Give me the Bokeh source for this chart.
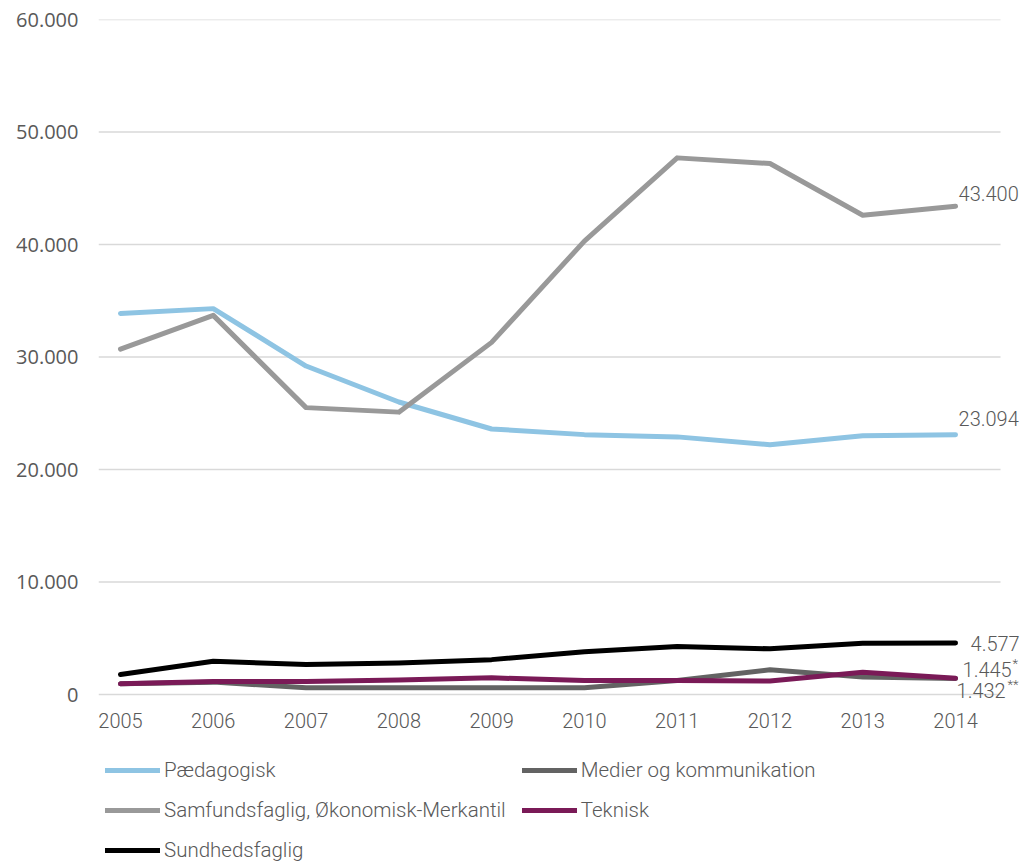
from bokeh.plotting import figure
from bokeh.models import Range1d, FixedTicker, Legend, LegendItem
from bokeh.embed import file_html
from bokeh.resources import INLINE
from bokeh.core.properties import value

years = [2005, 2006, 2007, 2008, 2009, 2010, 2011, 2012, 2013, 2014]
paedagogisk = [33870, 34300, 29200, 26000, 23600, 23100, 22900, 22200, 23000, 23094]
medier = [950, 1100, 600, 600, 600, 600, 1240, 2200, 1550, 1432]
samfund = [30700, 33700, 25500, 25100, 31300, 40300, 47700, 47200, 42600, 43400]
teknisk = [950, 1150, 1150, 1300, 1480, 1240, 1240, 1200, 1980, 1445]
sundhed = [1780, 2960, 2670, 2800, 3100, 3800, 4270, 4060, 4560, 4577]

series_names = ["Pædagogisk", "Medier og kommunikation",
                "Samfundsfaglig, Økonomisk-Merkantil", "Teknisk", "Sundhedsfaglig"]
series_values = [paedagogisk, medier, samfund, teknisk, sundhed]
series_colors = ["#8EC4E3", "#636363", "#999999", "#7A1A57", "#000000"]

y_ticks = [0, 10000, 20000, 30000, 40000, 50000, 60000]
y_tick_labels = ["0", "10.000", "20.000", "30.000", "40.000", "50.000", "60.000"]
year_labels = [str(y) for y in years]

FONT = "'Roboto Light', Roboto, sans-serif"
TXT = "#595959"

# frame extends below/right of the plotting area so that the end labels and
# the legend (drawn inside the frame) are not clipped
X_LO, X_HI, X_GRID_HI = 2004.763, 2014.808, 2014.485
Y_LO, Y_HI = -14933, 60000

p = figure(width=1030, height=862, output_backend="svg",
           toolbar_location=None, x_range=Range1d(X_LO, X_HI),
           y_range=Range1d(Y_LO, Y_HI), x_axis_location=None,
           min_border_left=98, min_border_top=19,
           min_border_right=0, min_border_bottom=0)
p.outline_line_color = None
p.background_fill_color = "white"
p.xgrid.grid_line_color = None
p.ygrid.grid_line_color = None

# horizontal gridlines limited to the plotting area
p.segment(x0=[X_LO] * len(y_ticks), x1=[X_GRID_HI] * len(y_ticks),
          y0=y_ticks, y1=y_ticks, line_color="#D9D9D9", line_width=1.5)

p.yaxis.ticker = FixedTicker(ticks=y_ticks)
p.yaxis.major_label_overrides = {t: l for t, l in zip(y_ticks, y_tick_labels)}
p.yaxis.axis_line_color = None
p.yaxis.major_tick_line_color = None
p.yaxis.minor_tick_line_color = None
p.yaxis.major_label_text_font = "Open Sans"
p.yaxis.major_label_text_font_size = "20px"
p.yaxis.major_label_text_color = TXT
p.yaxis.major_label_standoff = 14

# year labels under the zero line
p.text(years, [0] * len(years), text=year_labels, y_offset=26,
       text_font=value(FONT), text_font_size="20px", text_color=TXT,
       text_align="center", text_baseline="middle")

renderers = []
for name, vals, col in zip(series_names, series_values, series_colors):
    r = p.line(years, vals, line_color=col, line_width=5, line_cap="round",
               line_join="round")
    renderers.append(r)

def end_label(txt, val, dx, dy, size="20px"):
    p.text([years[-1]], [val], text=[txt], x_offset=dx, y_offset=dy,
           text_font=value(FONT), text_font_size=size, text_color=TXT,
           text_baseline="middle", text_align="left")

end_label("43.400", samfund[-1], 3, -13)
end_label("23.094", paedagogisk[-1], 3, -16)
end_label("4.577", sundhed[-1], 15, 0)
end_label("1.445", teknisk[-1], 7, -9)
end_label("*", teknisk[-1], 57, -15, "13px")
end_label("1.432", medier[-1], 1, 12)
end_label("**", medier[-1], 52, 6, "13px")

legend = Legend(items=[LegendItem(label=n, renderers=[r]) for n, r in zip(series_names, renderers)],
                ncols=2, orientation="horizontal", location=(7, 0),
                label_text_font=FONT, label_text_font_size="20.5px",
                label_text_color=TXT, glyph_width=55, glyph_height=20,
                label_standoff=4, label_height=20, label_width=340, spacing=16,
                padding=0, margin=0, border_line_color=None,
                background_fill_alpha=0)
p.add_layout(legend, "center")

open("out.html", "w").write(file_html(p, INLINE))
